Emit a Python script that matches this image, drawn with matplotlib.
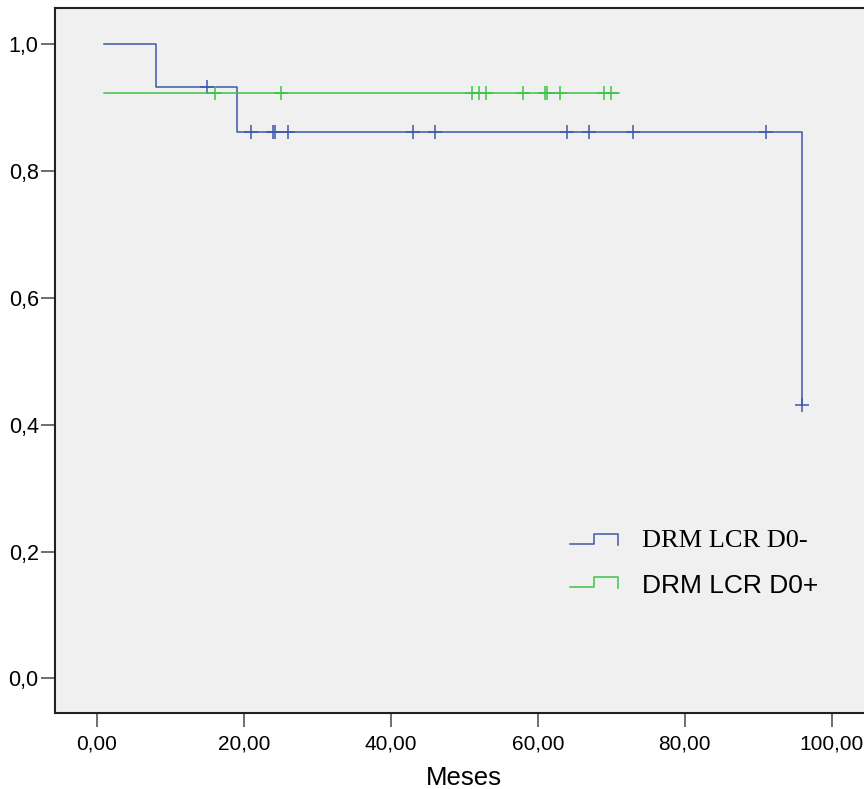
import numpy as np
import matplotlib
matplotlib.use("Agg")
import matplotlib.pyplot as plt

# Kaplan-Meier curves (Meses vs survival)
blue_label = "DRM LCR D0-"
blue_t = [1, 8, 19, 96]
blue_s = [1.0, 0.933, 0.862, 0.431]
blue_cens = [15, 21, 24, 24.2, 26, 43, 46, 64, 67, 73, 91, 96]

green_label = "DRM LCR D0+"
green_t = [1, 71]
green_s = [0.923, 0.923]
green_cens = [16, 25, 51, 52, 53, 58, 61, 61.2, 63, 69, 70]

xticks = [0, 20, 40, 60, 80, 100]
yticks = [0.0, 0.2, 0.4, 0.6, 0.8, 1.0]

blue = '#3e58ac'
green = '#3ec44a'


def surv_at(t_list, s_list, t):
    val = s_list[0]
    for tt, ss in zip(t_list, s_list):
        if tt <= t:
            val = ss
    return val


W, H = 864, 789
fig = plt.figure(figsize=(W / 100, H / 100), dpi=100)
fig.patch.set_facecolor('white')
left, top, bottom = 55.3, 8, 712.5
ax = fig.add_axes([left / W, 1 - bottom / H, 1 - left / W, (bottom - top) / H])
ax.set_facecolor('#f0f0f0')

ax.step(blue_t, blue_s, where='post', color=blue, lw=1.1)
ax.plot(blue_cens, [surv_at(blue_t, blue_s, c) for c in blue_cens], ls='none',
        marker='+', ms=10, mew=1.1, color=blue)
ax.step(green_t, green_s, where='post', color=green, lw=1.1)
ax.plot(green_cens, [surv_at(green_t, green_s, c) for c in green_cens], ls='none',
        marker='+', ms=10, mew=1.1, color=green)

ax.set_xlim(-5.68, 104.4)
ax.set_ylim(-0.0536, 1.0568)
ax.set_xticks(xticks)
ax.set_yticks(yticks)
ax.set_xticklabels([('%.2f' % v).replace('.', ',') for v in xticks],
                   family='Liberation Sans', fontsize=15)
ax.set_yticklabels([('%.1f' % v).replace('.', ',') for v in yticks],
                   family='Liberation Sans', fontsize=15.5)
ax.tick_params(direction='out', length=10, width=1.2, color='#555555', pad=2)
ax.tick_params(axis='x', pad=6)
ax.spines['right'].set_visible(False)
for sp in ['left', 'bottom', 'top']:
    ax.spines[sp].set_linewidth(1.5)
    ax.spines[sp].set_color('#222222')


def fx(px):
    return px / W


def fy(py):
    return 1 - py / H


fig.text(fx(464), fy(785), 'Meses', family='Liberation Sans', fontsize=18.5,
         ha='center', va='baseline')

# legend drawn by hand (step-shaped keys)
for (lo, hi, col, lab, fam, base) in [(544, 534, blue, blue_label, 'Liberation Serif', 546.7),
                                       (587, 577, green, green_label, 'Liberation Sans', 593.3)]:
    xs = [570, 594, 594, 618, 618]
    ys = [lo, lo, hi, hi, lo + 1]
    fig.add_artist(plt.Line2D([fx(x) for x in xs], [fy(y) for y in ys],
                              transform=fig.transFigure, color=col, lw=1.1))
    fig.text(fx(642), fy(base), lab, family=fam, fontsize=19, va='baseline')

fig.savefig('out.png', dpi=100)
